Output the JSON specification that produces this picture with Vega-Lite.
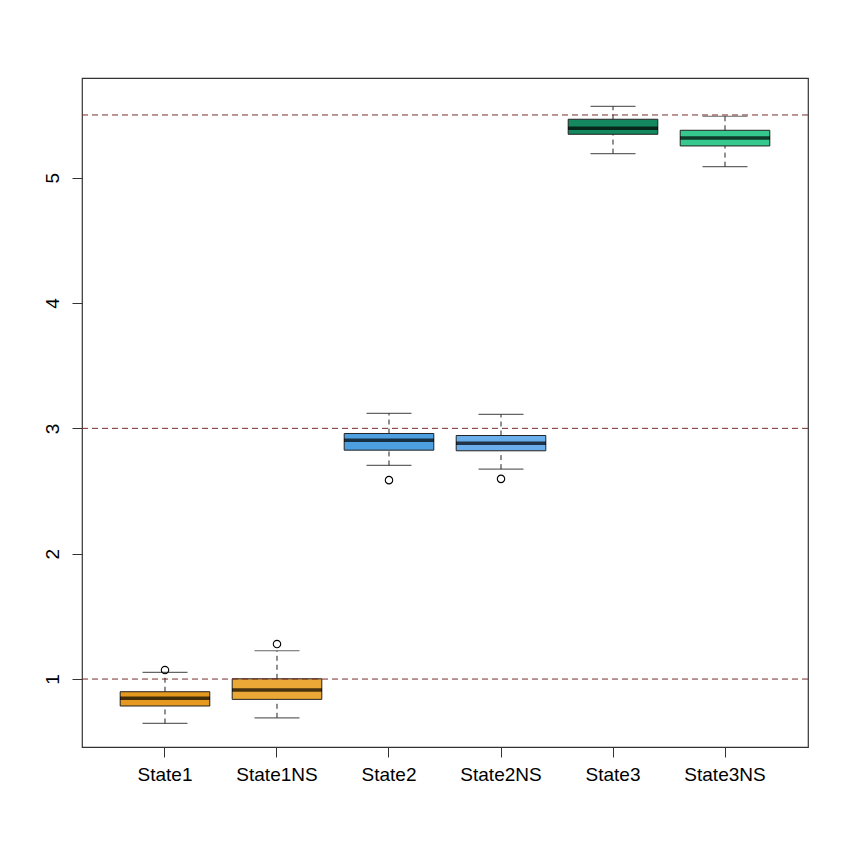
{
  "$schema": "https://vega.github.io/schema/vega-lite/v6.json",
  "width": 726,
  "height": 669,
  "autosize": {"type": "none"},
  "padding": {"left": 82, "top": 78, "right": 42, "bottom": 103},
  "background": "white",
  "config": {
    "view": {"stroke": "#333333", "strokeWidth": 1.2},
    "font": "Liberation Sans"
  },
  "datasets": {
    "boxes": [
      {"group": "State1", "lower": 0.646, "q1": 0.785, "median": 0.846, "q3": 0.899, "upper": 1.053},
      {"group": "State1NS", "lower": 0.691, "q1": 0.838, "median": 0.912, "q3": 1.002, "upper": 1.226},
      {"group": "State2", "lower": 2.704, "q1": 2.826, "median": 2.906, "q3": 2.959, "upper": 3.119},
      {"group": "State2NS", "lower": 2.675, "q1": 2.821, "median": 2.882, "q3": 2.943, "upper": 3.111},
      {"group": "State3", "lower": 5.192, "q1": 5.346, "median": 5.394, "q3": 5.466, "upper": 5.569},
      {"group": "State3NS", "lower": 5.088, "q1": 5.253, "median": 5.317, "q3": 5.378, "upper": 5.49}
    ],
    "outliers": [
      {"group": "State1", "value": 1.072},
      {"group": "State1NS", "value": 1.279},
      {"group": "State2", "value": 2.587},
      {"group": "State2NS", "value": 2.597}
    ],
    "refs": [{"level": 1}, {"level": 3}, {"level": 5.5}]
  },
  "encoding": {
    "x": {
      "field": "group",
      "type": "nominal",
      "sort": ["State1", "State1NS", "State2", "State2NS", "State3", "State3NS"],
      "scale": {"type": "band", "paddingInner": 0.2, "paddingOuter": 0.341},
      "axis": {
        "title": null,
        "domain": false,
        "grid": false,
        "labelAngle": 0,
        "labelFontSize": 19,
        "labelColor": "black",
        "labelPadding": 8,
        "tickSize": 10,
        "tickColor": "#333333",
        "tickWidth": 1
      }
    }
  },
  "layer": [
    {
      "data": {"name": "boxes"},
      "mark": {"type": "rule", "strokeDash": [5, 4], "color": "#222222", "strokeWidth": 1},
      "encoding": {
        "y": {
          "field": "q3", "type": "quantitative",
          "scale": {"domain": [0.458, 5.795], "nice": false, "zero": false},
          "axis": {
            "title": null,
            "values": [1, 2, 3, 4, 5],
            "format": "d",
            "grid": false,
            "domain": false,
            "labelAngle": -90,
            "labelAlign": "center",
            "labelBaseline": "alphabetic",
            "labelFontSize": 19,
            "labelColor": "black",
            "labelPadding": 14,
            "tickSize": 10,
            "tickColor": "#333333",
            "tickWidth": 1
          }
        },
        "y2": {"field": "upper"}
      }
    },
    {
      "data": {"name": "boxes"},
      "mark": {"type": "rule", "strokeDash": [5, 4], "color": "#222222", "strokeWidth": 1},
      "encoding": {
        "y": {"field": "lower", "type": "quantitative"},
        "y2": {"field": "q1"}
      }
    },
    {
      "data": {"name": "boxes"},
      "mark": {"type": "tick", "size": 45, "thickness": 1.2, "color": "#222222"},
      "encoding": {"y": {"field": "upper", "type": "quantitative"}}
    },
    {
      "data": {"name": "boxes"},
      "mark": {"type": "tick", "size": 45, "thickness": 1.2, "color": "#222222"},
      "encoding": {"y": {"field": "lower", "type": "quantitative"}}
    },
    {
      "data": {"name": "boxes"},
      "mark": {"type": "bar", "stroke": "#222222", "strokeWidth": 1},
      "encoding": {
        "y": {"field": "q1", "type": "quantitative"},
        "y2": {"field": "q3"},
        "color": {
          "field": "group",
          "type": "nominal",
          "scale": {
            "domain": ["State1", "State1NS", "State2", "State2NS", "State3", "State3NS"],
            "range": ["#E5991F", "#EAA836", "#4E9FE0", "#6AAEEB", "#14885E", "#35C98E"]
          },
          "legend": null
        }
      }
    },
    {
      "data": {"name": "boxes"},
      "mark": {"type": "tick", "size": 90, "thickness": 3.5, "color": "black"},
      "encoding": {"y": {"field": "median", "type": "quantitative"}}
    },
    {
      "data": {"name": "outliers"},
      "mark": {"type": "point", "shape": "circle", "filled": false, "size": 55, "stroke": "black", "strokeWidth": 1.1, "opacity": 1},
      "encoding": {"y": {"field": "value", "type": "quantitative"}}
    },
    {
      "data": {"name": "refs"},
      "mark": {"type": "rule", "strokeDash": [6, 4], "color": "#7A2C2C", "strokeWidth": 1},
      "encoding": {"y": {"field": "level", "type": "quantitative"}, "x": null}
    }
  ]
}
